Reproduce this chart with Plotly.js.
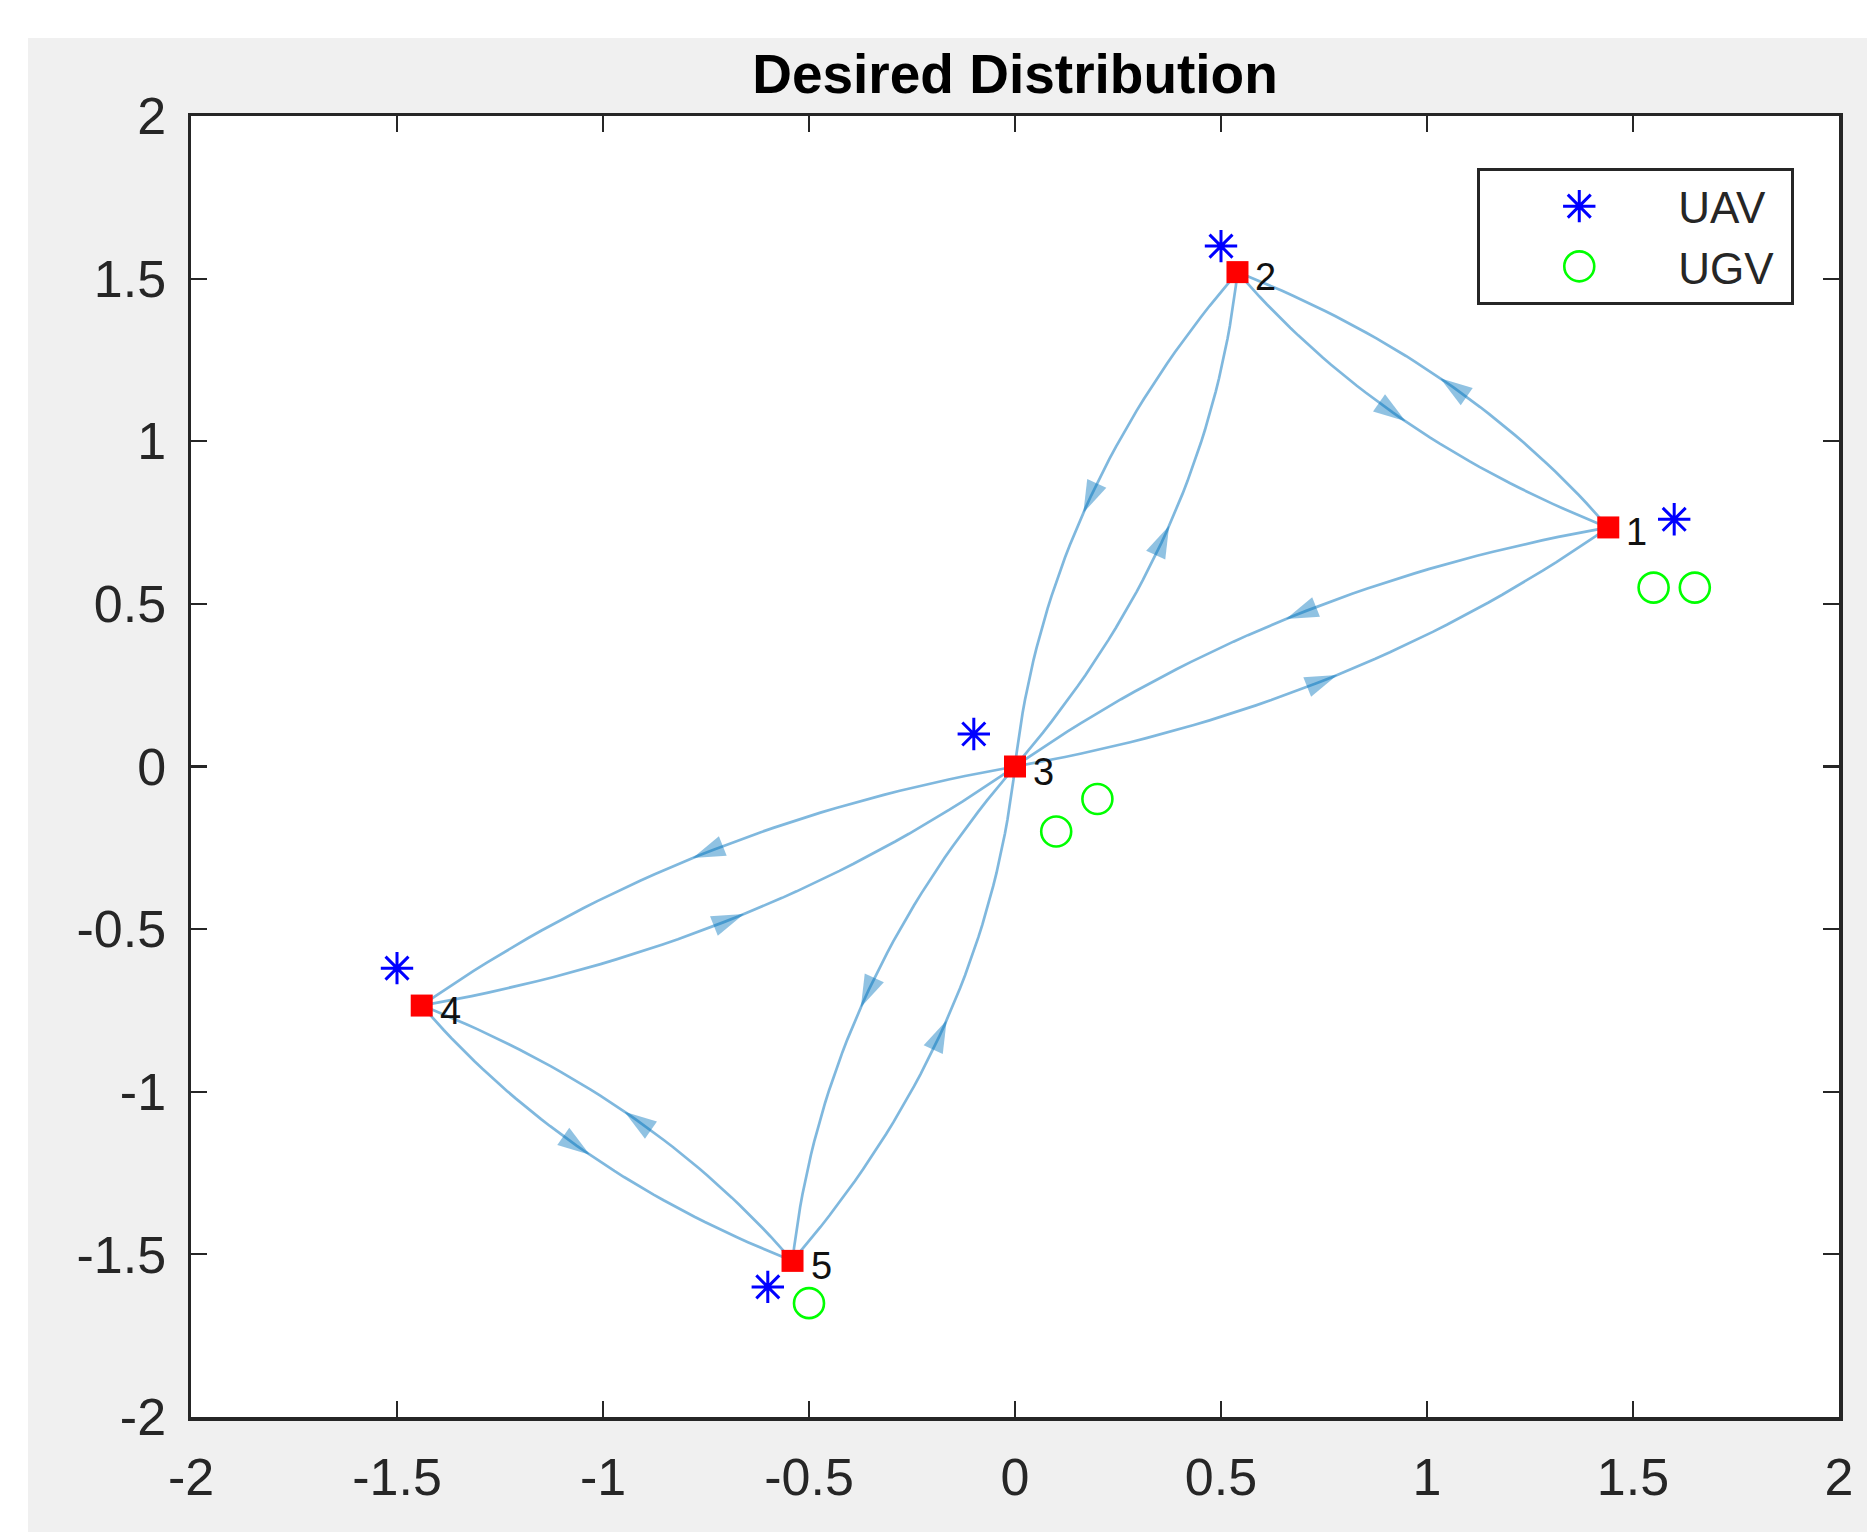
<!DOCTYPE html>
<html><head><meta charset="utf-8">
<script src="https://cdn.plot.ly/plotly-3.0.1.min.js"></script>
<style>
html,body{margin:0;padding:0;background:#ffffff;}
#chart{position:absolute;left:28px;top:38px;width:1839px;height:1494px;}
</style>
</head><body><div id="chart"></div>
<script>
// ---- data ----
const nodeIds = ['1', '2', '3', '4', '5'];
const nodeX = [1.44, 0.54, 0, -1.44, -0.54];
const nodeY = [0.735, 1.52, 0, -0.735, -1.52];
// directed edges (1-based node ids)
const edgeSource = [1, 2, 1, 3, 2, 3, 3, 4, 3, 5, 4, 5];
const edgeTarget = [2, 1, 3, 1, 3, 2, 4, 3, 5, 3, 5, 4];
const uavX = [1.6, 0.5, -0.1, -1.5, -0.6];
const uavY = [0.76, 1.6, 0.1, -0.62, -1.6];
const ugvX = [1.55, 1.65, 0.2, 0.1, -0.5];
const ugvY = [0.55, 0.55, -0.1, -0.2, -1.65];
const tickVals = [-2, -1.5, -1, -0.5, 0, 0.5, 1, 1.5, 2];
const tickText = ['-2', '-1.5', '-1', '-0.5', '0', '0.5', '1', '1.5', '2'];

// ---- curved directed edges (each edge bows to the right of its direction) ----
const BEND = 0.13;
function bez(s, t, u) {
  const x0 = nodeX[s], y0 = nodeY[s], x2 = nodeX[t], y2 = nodeY[t];
  const dx = x2 - x0, dy = y2 - y0;
  const cx = (x0 + x2) / 2 + dy * BEND, cy = (y0 + y2) / 2 - dx * BEND;
  const a = (1 - u) * (1 - u), b = 2 * (1 - u) * u, c = u * u;
  return [a * x0 + b * cx + c * x2, a * y0 + b * cy + c * y2];
}
const ex = [], ey = [], ax = [], ay = [], as = [];
for (let k = 0; k < edgeSource.length; k++) {
  const s = edgeSource[k] - 1, t = edgeTarget[k] - 1;
  for (let i = 0; i <= 40; i++) {
    const p = bez(s, t, i / 40);
    ex.push(p[0]); ey.push(p[1]);
  }
  ex.push(null); ey.push(null);
  const p1 = bez(s, t, 0.47), p2 = bez(s, t, 0.51);
  ax.push(p1[0], p2[0]); ay.push(p1[1], p2[1]); as.push(0, 34);
}

const UAV_SIZE = 27, UGV_SIZE = 30;
const traces = [
  {x: ex, y: ey, mode: 'lines', line: {color: 'rgba(0,114,189,0.5)', width: 2.7}, hoverinfo: 'skip', showlegend: false},
  {x: ax, y: ay, mode: 'markers', hoverinfo: 'skip', showlegend: false,
   marker: {symbol: 'arrow', angleref: 'previous', size: as, color: 'rgba(0,114,189,0.62)', line: {width: 0}}},
  {x: nodeX, y: nodeY, mode: 'markers', showlegend: false,
   marker: {symbol: 'square', size: 22, color: '#ff0000', line: {width: 0}}},
  {x: uavX, y: uavY, mode: 'markers', name: 'UAV&nbsp;',
   marker: {symbol: 'asterisk-open', size: UAV_SIZE, color: '#0000ff', line: {color: '#0000ff', width: 3}}},
  {x: ugvX, y: ugvY, mode: 'markers', name: 'UGV&nbsp;',
   marker: {symbol: 'circle-open', size: UGV_SIZE, color: '#00ff00', line: {color: '#00ff00', width: 2.6}}}
];

const FONT = 'Liberation Sans, Arial, Helvetica, sans-serif';
const axisCommon = {
  range: [-2, 2], tickmode: 'array', tickvals: tickVals, ticktext: tickText,
  showgrid: false, zeroline: false, showline: true, linecolor: '#262626', linewidth: 3.5,
  mirror: 'ticks', ticks: 'inside', ticklen: 16, tickwidth: 2.2, tickcolor: '#262626',
  tickfont: {family: FONT, size: 52, color: '#262626'}, fixedrange: true
};
const annotations = nodeIds.map((id, i) => ({
  x: nodeX[i], y: nodeY[i], xref: 'x', yref: 'y', text: id, showarrow: false,
  xanchor: 'left', yanchor: 'middle', xshift: 16, yshift: -5,
  font: {family: FONT, size: 38, color: '#111111'}
}));

const layout = {
  width: 1839, height: 1494,
  paper_bgcolor: '#f0f0f0', plot_bgcolor: '#ffffff',
  margin: {l: 163, r: 28, t: 78, b: 115},
  font: {family: FONT, color: '#262626'},
  title: {text: '<b>Desired Distribution</b>', font: {family: FONT, size: 55, color: '#000000'},
          x: 0.5, xref: 'paper', xanchor: 'center', y: 0.9764, yref: 'container', yanchor: 'middle'},
  xaxis: Object.assign({}, axisCommon, {ticklabelstandoff: 12}),
  yaxis: Object.assign({}, axisCommon, {ticklabelstandoff: 11}),
  showlegend: true,
  legend: {x: 0.7805, y: 0.960, xanchor: 'left', yanchor: 'top', bgcolor: '#ffffff',
           bordercolor: '#262626', borderwidth: 3, itemwidth: 188, tracegroupgap: 0,
           font: {family: FONT, size: 44, color: '#262626'}},
  annotations: annotations
};
Plotly.newPlot('chart', traces, layout, {staticPlot: true, displayModeBar: false}).then(function () {
  // legend symbols are capped at 16px by the library; scale them to the plotted marker sizes
  const sizes = [UAV_SIZE, UGV_SIZE];
  document.querySelectorAll('#chart .legend .traces').forEach(function (g, i) {
    const k = (sizes[i] || 16) / 16;
    g.querySelectorAll('path.scatterpts').forEach(function (p) {
      const tr = p.getAttribute('transform') || '';
      p.setAttribute('transform', tr + ' scale(' + k + ')');
      p.style.vectorEffect = 'non-scaling-stroke';
    });
  });
});
</script>
</body></html>
